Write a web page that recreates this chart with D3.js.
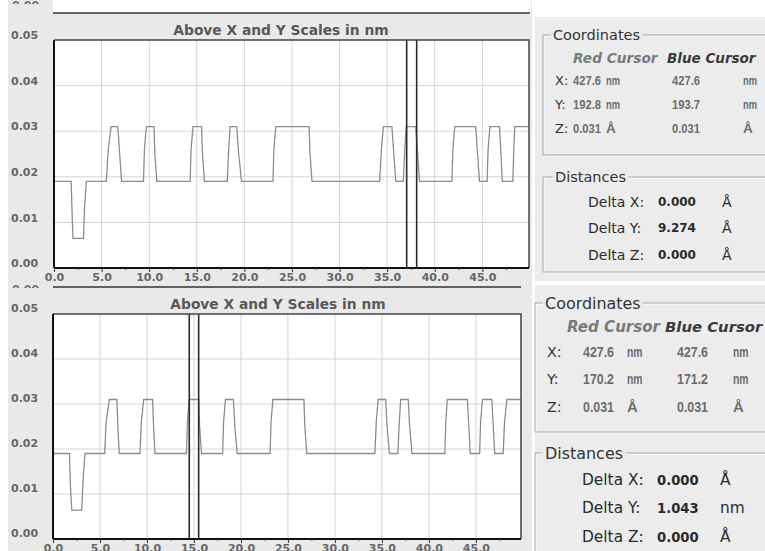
<!DOCTYPE html>
<html lang="en">
<head>
  <meta charset="UTF-8" />
  <title>Line profile with cursors</title>
  <script src="https://d3js.org/d3.v7.min.js"></script>
  <style>
    body { margin: 0; background: #fff; }
    svg { display: block; }
  </style>
</head>
<body>
  <svg id="chart" width="765" height="551" font-family="'DejaVu Sans', sans-serif"></svg>
  <script>
    // profile data (x in nm, height in nm)
    const topX = [0, 1.8, 1.9, 2.0, 3.1, 3.2, 3.4,
      5.5, 5.7, 6.0, 6.7, 6.9, 7.1,
      9.4, 9.5, 9.7, 10.5, 10.6, 10.8,
      14.3, 14.4, 14.6, 15.5, 15.6, 15.8,
      18.2, 18.35, 18.5, 19.2, 19.4, 19.7,
      23.0, 23.1, 23.3, 26.8, 26.9, 27.1,
      34.2, 34.4, 34.6, 35.5, 35.7, 35.9,
      36.7, 36.85, 37.0, 38.0, 38.2, 38.4,
      41.8, 41.9, 42.1, 44.3, 44.5, 44.7,
      45.5, 45.6, 45.8, 46.8, 46.95, 47.1,
      48.2, 48.3, 48.4, 49.9];
    const topZ = [0.019, 0.019, 0.012, 0.0065, 0.0065, 0.013, 0.019,
      0.019, 0.026, 0.031, 0.031, 0.025, 0.019,
      0.019, 0.026, 0.031, 0.031, 0.025, 0.019,
      0.019, 0.026, 0.031, 0.031, 0.025, 0.019,
      0.019, 0.026, 0.031, 0.031, 0.025, 0.019,
      0.019, 0.026, 0.031, 0.031, 0.025, 0.019,
      0.019, 0.026, 0.031, 0.031, 0.025, 0.019,
      0.019, 0.026, 0.031, 0.031, 0.025, 0.019,
      0.019, 0.026, 0.031, 0.031, 0.025, 0.019,
      0.019, 0.026, 0.031, 0.031, 0.025, 0.019,
      0.019, 0.026, 0.031, 0.031];

    const bottomX = [0, 1.75, 1.85, 2.0, 3.05, 3.2, 3.4,
      5.5, 5.65, 6.0, 6.8, 6.9, 7.05,
      9.25, 9.4, 9.65, 10.6, 10.7, 10.85,
      14.2, 14.3, 14.5, 15.5, 15.6, 15.8,
      18.05, 18.15, 18.35, 19.2, 19.35, 19.6,
      23.1, 23.2, 23.4, 26.7, 26.8, 27.0,
      34.25, 34.4, 34.6, 35.4, 35.55, 35.8,
      36.7, 36.85, 37.0, 37.8, 37.95, 38.2,
      41.7, 41.8, 41.95, 44.1, 44.25, 44.4,
      45.4, 45.5, 45.7, 46.7, 46.85, 47.0,
      47.9, 48.05, 48.3, 49.8];
    const bottomZ = [0.019, 0.019, 0.012, 0.0064, 0.0064, 0.013, 0.019,
      0.019, 0.026, 0.031, 0.031, 0.025, 0.019,
      0.019, 0.026, 0.031, 0.031, 0.025, 0.019,
      0.019, 0.026, 0.031, 0.031, 0.025, 0.019,
      0.019, 0.026, 0.031, 0.031, 0.025, 0.019,
      0.019, 0.026, 0.031, 0.031, 0.025, 0.019,
      0.019, 0.026, 0.031, 0.031, 0.025, 0.019,
      0.019, 0.026, 0.031, 0.031, 0.025, 0.019,
      0.019, 0.026, 0.031, 0.031, 0.025, 0.019,
      0.019, 0.026, 0.031, 0.031, 0.025, 0.019,
      0.019, 0.026, 0.031, 0.031];

    const topCursors = [37.05, 38.1];
    const bottomCursors = [14.5, 15.5];

    const xTicks = [0, 5, 10, 15, 20, 25, 30, 35, 40, 45];
    const xMinorTicks = [2.5, 7.5, 12.5, 17.5, 22.5, 27.5, 32.5, 37.5, 42.5, 47.5];
    const yTicks = [0, 0.01, 0.02, 0.03, 0.04, 0.05];
    const chartTitle = 'Above X and Y Scales in nm';

    const cursorHeader = ['Red Cursor', 'Blue Cursor'];
    const topCoords = [
      ['X:', '427.6', 'nm', '427.6', 'nm'],
      ['Y:', '192.8', 'nm', '193.7', 'nm'],
      ['Z:', '0.031', 'Å', '0.031', 'Å']
    ];
    const topDistances = [
      ['Delta X:', '0.000', 'Å'],
      ['Delta Y:', '9.274', 'Å'],
      ['Delta Z:', '0.000', 'Å']
    ];
    const bottomCoords = [
      ['X:', '427.6', 'nm', '427.6', 'nm'],
      ['Y:', '170.2', 'nm', '171.2', 'nm'],
      ['Z:', '0.031', 'Å', '0.031', 'Å']
    ];
    const bottomDistances = [
      ['Delta X:', '0.000', 'Å'],
      ['Delta Y:', '1.043', 'nm'],
      ['Delta Z:', '0.000', 'Å']
    ];

    const svg = d3.select('#chart');

    // backgrounds
    svg.append('rect').attr('x', 8).attr('y', 0).attr('width', 524).attr('height', 551).attr('fill', '#e9e9e9');
    svg.append('rect').attr('x', 53).attr('y', 0).attr('width', 478).attr('height', 13).attr('fill', '#fff');
    svg.append('rect').attr('x', 535).attr('y', 17).attr('width', 230).attr('height', 264).attr('fill', '#ececec');
    svg.append('rect').attr('x', 535).attr('y', 285).attr('width', 230).attr('height', 266).attr('fill', '#ececec');

    const panels = [
      { x0: 54, x1: 529, xMax: 49.9, yB: 268, yT: 40, lineY: 13, lineX1: 530, titleX: 281, titleY: 30,
        ghostY: 4, xs: topX, zs: topZ, cursors: topCursors },
      { x0: 53, x1: 521, xMax: 49.8, yB: 539, yT: 314, lineY: 287, lineX1: 521, titleX: 278, titleY: 304,
        ghostY: 288, xs: bottomX, zs: bottomZ, cursors: bottomCursors }
    ];

    panels.forEach((p, i) => {
      const g = svg.append('g');
      const x = d3.scaleLinear().domain([0, p.xMax]).range([p.x0, p.x1]);
      const y = d3.scaleLinear().domain([0, 0.05]).range([p.yB, p.yT]);

      // header line and clipped ghost label
      g.append('line')
        .attr('x1', 53).attr('x2', p.lineX1)
        .attr('y1', p.lineY).attr('y2', p.lineY)
        .attr('stroke', '#333').attr('stroke-width', 1.5);
      g.append('clipPath').attr('id', 'ghost' + i)
        .append('rect').attr('x', 8).attr('y', p.ghostY - 4).attr('width', 45).attr('height', 4);
      g.append('text')
        .attr('clip-path', `url(#ghost${i})`)
        .attr('x', 12).attr('y', p.ghostY + 5)
        .attr('font-size', 11).attr('font-weight', 'bold').attr('fill', '#777')
        .text('0.00');

      g.append('text')
        .attr('x', p.titleX).attr('y', p.titleY)
        .attr('text-anchor', 'middle').attr('dominant-baseline', 'central')
        .attr('font-size', 13.8).attr('font-weight', 'bold').attr('fill', '#585858')
        .text(chartTitle);

      g.append('rect')
        .attr('x', p.x0).attr('y', p.yT)
        .attr('width', p.x1 - p.x0).attr('height', p.yB - p.yT)
        .attr('fill', '#fff');

      // grid
      g.append('g').selectAll('line')
        .data(xTicks.slice(1))
        .join('line')
        .attr('x1', d => x(d)).attr('x2', d => x(d))
        .attr('y1', p.yT).attr('y2', p.yB)
        .attr('stroke', '#d4d4d4');
      g.append('g').selectAll('line')
        .data(yTicks.slice(1, -1))
        .join('line')
        .attr('x1', p.x0).attr('x2', p.x1)
        .attr('y1', d => y(d)).attr('y2', d => y(d))
        .attr('stroke', '#d4d4d4');

      const clipId = 'plot' + i;
      g.append('clipPath').attr('id', clipId)
        .append('rect').attr('x', p.x0).attr('y', p.yT)
        .attr('width', p.x1 - p.x0).attr('height', p.yB - p.yT);

      const line = d3.line().x(d => x(d[0])).y(d => y(d[1]));
      g.append('path')
        .datum(p.xs.map((v, k) => [v, p.zs[k]]))
        .attr('clip-path', `url(#${clipId})`)
        .attr('fill', 'none')
        .attr('stroke', '#8c8c8c')
        .attr('stroke-width', 1.3)
        .attr('d', line);

      // cursors
      g.append('g').selectAll('line')
        .data(p.cursors)
        .join('line')
        .attr('x1', d => x(d)).attr('x2', d => x(d))
        .attr('y1', p.yT).attr('y2', p.yB)
        .attr('stroke', '#2a2a2a').attr('stroke-width', 1.6);

      // frame (top / right)
      g.append('path')
        .attr('d', `M${p.x0},${p.yT}H${p.x1}V${p.yB}`)
        .attr('fill', 'none').attr('stroke', '#444').attr('stroke-width', 1.5);
      g.append('line')
        .attr('x1', p.x0).attr('x2', p.x0).attr('y1', p.yT).attr('y2', p.yB)
        .attr('stroke', '#111').attr('stroke-width', 2);

      // x axis
      const xAxis = g.append('g')
        .attr('transform', `translate(0,${p.yB})`)
        .call(d3.axisBottom(x).tickValues(xTicks).tickFormat(d3.format('.1f')).tickSize(4).tickPadding(1));
      xAxis.select('.domain').attr('stroke', '#111').attr('stroke-width', 2)
        .attr('d', `M${p.x0},0H${p.x1}`);
      xAxis.selectAll('.tick line').attr('stroke', '#333');
      xAxis.selectAll('.tick text')
        .attr('font-family', "'DejaVu Sans', sans-serif")
        .attr('font-size', 11).attr('font-weight', 'bold').attr('fill', '#666');
      const xMinor = g.append('g')
        .attr('transform', `translate(0,${p.yB})`)
        .call(d3.axisBottom(x).tickValues(xMinorTicks).tickFormat('').tickSize(2));
      xMinor.select('.domain').remove();
      xMinor.selectAll('.tick line').attr('stroke', '#555');

      // y axis labels
      const yAxis = g.append('g')
        .attr('transform', `translate(${p.x0},0)`)
        .call(d3.axisLeft(y).tickValues(yTicks).tickFormat(d3.format('.2f')).tickSize(0));
      yAxis.select('.domain').remove();
      yAxis.selectAll('.tick text')
        .attr('font-family', "'DejaVu Sans', sans-serif")
        .attr('font-size', 11).attr('font-weight', 'bold').attr('fill', '#666')
        .attr('text-anchor', 'start')
        .attr('x', 11 - p.x0)
        .attr('dy', i === 0 ? '-0.12em' : '-0.2em');
    });

    // info boxes
    const infos = [
      { s: 1, vw: 28, coordBox: [543, 35, 155], coordTitle: [553, 35], headY: 58, headX: [573, 667],
        rowsY: [80, 104, 128], cols: [555, 573, 606, 672, 743],
        distBox: [543, 177, 272], distTitle: [555, 177], distY: [202, 228, 255], distCols: [588, 658, 722],
        coords: topCoords, dists: topDistances },
      { s: 1.1, vw: 31, coordBox: [535, 303, 432], coordTitle: [545, 303], headY: 327, headX: [567, 665],
        rowsY: [352, 379, 407], cols: [547, 583, 627, 677, 733],
        distBox: [535, 453, 570], distTitle: [545, 453], distY: [480, 508, 537], distCols: [582, 657, 720],
        coords: bottomCoords, dists: bottomDistances }
    ];

    function groupBox(g, box, title, t, s) {
      g.append('rect')
        .attr('x', box[0] + 1).attr('y', box[1] + 1)
        .attr('width', 800 - box[0]).attr('height', box[2] - box[1])
        .attr('fill', 'none').attr('stroke', '#fff');
      g.append('rect')
        .attr('x', box[0]).attr('y', box[1])
        .attr('width', 800 - box[0]).attr('height', box[2] - box[1])
        .attr('fill', 'none').attr('stroke', '#a8a8a8');
      const tx = g.append('text')
        .attr('x', t[0]).attr('y', t[1])
        .attr('dominant-baseline', 'central')
        .attr('font-size', 14.5 * s).attr('fill', '#333')
        .text(title);
      const w = tx.node().getComputedTextLength();
      g.insert('rect', 'text:last-of-type')
        .attr('x', t[0] - 2).attr('y', t[1] - 3)
        .attr('width', w + 4).attr('height', 6)
        .attr('fill', '#ececec');
    }

    infos.forEach(b => {
      const g = svg.append('g');
      groupBox(g, b.coordBox, 'Coordinates', b.coordTitle, b.s);
      groupBox(g, b.distBox, 'Distances', b.distTitle, b.s);

      g.selectAll('text.head')
        .data(cursorHeader)
        .join('text')
        .attr('class', 'head')
        .attr('x', (d, k) => b.headX[k]).attr('y', b.headY)
        .attr('dominant-baseline', 'central')
        .attr('font-size', (d, k) => (k === 0 ? 13.7 : 13.5) * b.s)
        .attr('font-style', 'italic').attr('font-weight', 'bold')
        .attr('fill', (d, k) => k === 0 ? '#7a7a7a' : '#3a3a3a')
        .text(d => d);

      b.coords.forEach((row, r) => {
        const t = g.selectAll(null)
          .data(row)
          .join('text')
          .attr('x', (d, k) => b.cols[k]).attr('y', b.rowsY[r])
          .attr('dominant-baseline', 'central')
          .attr('font-family', (d, k) => k === 0 ? null : "'Liberation Sans', sans-serif")
          .attr('font-size', (d, k) => (k === 0 ? 13 : 13.5) * b.s)
          .attr('font-weight', (d, k) => k === 0 ? 'normal' : 'bold')
          .attr('fill', (d, k) => k === 0 ? '#333' : '#6c6c6c')
          .text(d => d);
        t.filter((d, k) => k === 1 || k === 3)
          .attr('textLength', b.vw)
          .attr('lengthAdjust', 'spacingAndGlyphs');
        t.filter((d, k) => (k === 2 || k === 4) && d === 'nm')
          .attr('textLength', b.vw / 2)
          .attr('lengthAdjust', 'spacingAndGlyphs');
      });

      b.dists.forEach((row, r) => {
        g.selectAll(null)
          .data(row)
          .join('text')
          .attr('x', (d, k) => b.distCols[k]).attr('y', b.distY[r])
          .attr('dominant-baseline', 'central')
          .attr('font-size', (d, k) => (k === 1 ? 12 : 14) * b.s)
          .attr('font-weight', (d, k) => k === 1 ? 'bold' : 'normal')
          .attr('fill', '#2a2a2a')
          .text(d => d);
      });
    });
  </script>
</body>
</html>
